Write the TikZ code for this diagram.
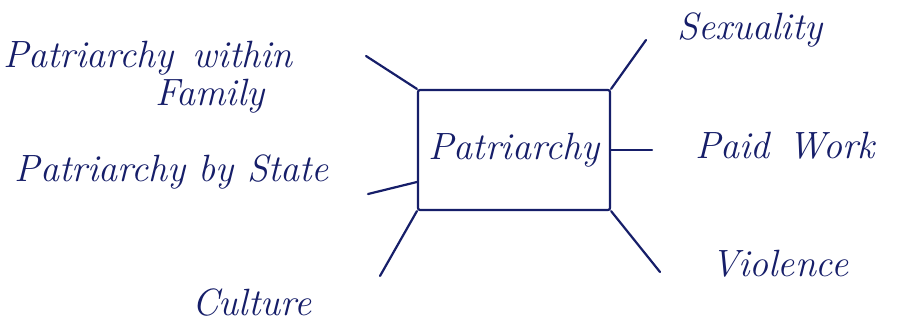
\documentclass[tikz,border=0pt]{standalone}
\definecolor{ink}{RGB}{22,30,105}
\tikzset{
  pen/.style={draw=ink, line width=2.2pt, line cap=round, line join=round},
  hand/.style={text=ink, font=\itshape\fontsize{38}{42}\selectfont, inner sep=0pt, anchor=center},
}
\begin{document}
\begin{tikzpicture}[x=1pt,y=-1pt]
\useasboundingbox[fill=white] (0,0) rectangle (918,333);
% centre box
\node[pen, rounded corners=2pt, minimum width=192pt, minimum height=120pt, inner sep=0pt,
      text=ink, font=\itshape\fontsize{38}{42}\selectfont] (p) at (514,150) {Patriarchy};
% free ends of connectors
\coordinate (tl) at (366,56);
\coordinate (tr) at (646,40);
\coordinate (rr) at (652,150);
\coordinate (br) at (660,272);
\coordinate (bl) at (380,276);
\coordinate (ll) at (368,194);
\draw[pen] (p.north west) -- (tl);
\draw[pen] (p.north east) -- (tr);
\draw[pen] (p.east) -- (rr);
\draw[pen] (p.south east) -- (br);
\draw[pen] (p.south west) -- (bl);
\draw[pen] ([yshift=-32pt]p.west) -- (ll);
% labels
\node[hand] (sex) at (750,30) {Sexuality};
\node[hand] (paid) at (785,146) {Paid\enspace Work};
\node[hand] (vio) at (780,264) {Violence};
\node[hand] (fam1) at (148,58) {Patriarchy\enspace within};
\node[hand] (fam2) at (210,96) {Family};
\node[hand] (state) at (172,172) {Patriarchy by State};
\node[hand] (cul) at (252,303) {Culture};
\end{tikzpicture}
\end{document}
